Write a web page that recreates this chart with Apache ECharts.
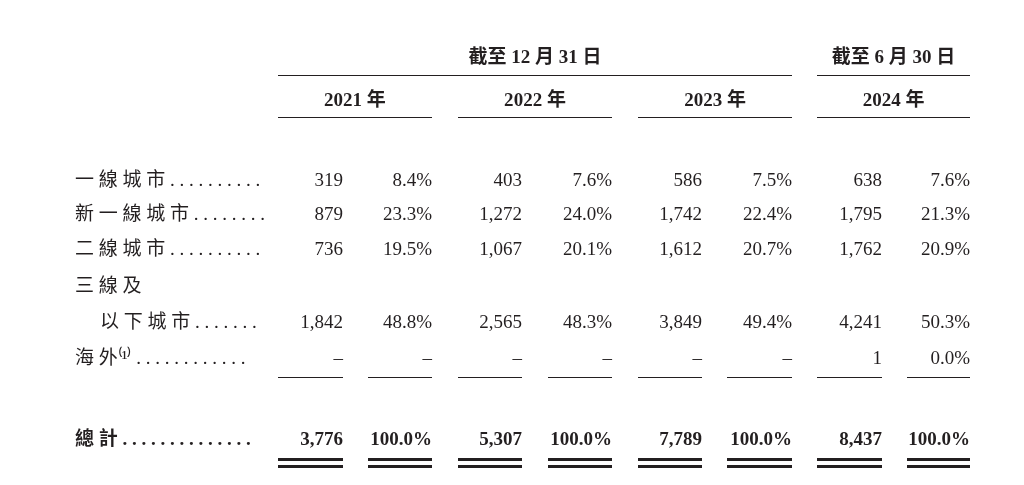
<!DOCTYPE html>
<html lang="zh">
<head>
    <meta charset="UTF-8">
    <title>城市分布</title>
    <script src="https://cdn.jsdelivr.net/npm/echarts@6/dist/echarts.min.js"></script>
    <style>html,body{margin:0;background:#fff}#main{width:1024px;height:485px}</style>
</head>
<body>
<div id="main"></div>
<script type="text/javascript">
    var groupTitles = ['截至 12 月 31 日', '截至 6 月 30 日'];
    var years = ['2021 年', '2022 年', '2023 年', '2024 年'];
    var rowLabels = ['一線城市', '新一線城市', '二線城市', '三線及', '以下城市', '海外'];
    var rowDots = ['..........', '........', '..........', '', '.......', '............'];
    var counts = [
        ['319', '403', '586', '638'],
        ['879', '1,272', '1,742', '1,795'],
        ['736', '1,067', '1,612', '1,762'],
        null,
        ['1,842', '2,565', '3,849', '4,241'],
        ['–', '–', '–', '1']
    ];
    var pcts = [
        ['8.4%', '7.6%', '7.5%', '7.6%'],
        ['23.3%', '24.0%', '22.4%', '21.3%'],
        ['19.5%', '20.1%', '20.7%', '20.9%'],
        null,
        ['48.8%', '48.3%', '49.4%', '50.3%'],
        ['–', '–', '–', '0.0%']
    ];
    var totalLabel = '總計';
    var totalCounts = ['3,776', '5,307', '7,789', '8,437'];
    var totalPcts = ['100.0%', '100.0%', '100.0%', '100.0%'];

    var font = '"Liberation Serif", "Noto Sans CJK TC", serif';
    var colLeft = [278, 458, 638, 817];   // 每年列左边
    var countRight = [343, 522, 702, 882];
    var pctLeft = [368, 548, 727, 907];
    var pctRight = [432, 612, 792, 970];
    var rowY = [181, 215, 250, 287, 323, 359];

    var g = [];
    function text(x, y, s, align, bold) {
        g.push({type: 'text', x: x, y: y, style: {text: s, fill: '#231f20', font: (bold ? 'bold ' : '') + '19px ' + font, textAlign: align, textVerticalAlign: 'middle'}});
    }
    function line(x1, x2, y, w) {
        g.push({type: 'line', shape: {x1: x1, y1: y, x2: x2, y2: y}, style: {stroke: '#231f20', lineWidth: w}});
    }
    // 表头
    text((colLeft[0] + pctRight[2]) / 2, 58, groupTitles[0], 'center', true);
    text((colLeft[3] + pctRight[3]) / 2, 58, groupTitles[1], 'center', true);
    line(colLeft[0], pctRight[2], 75.5, 1);
    line(colLeft[3], pctRight[3], 75.5, 1);
    years.forEach(function (y, i) {
        text((colLeft[i] + pctRight[i]) / 2, 101, y, 'center', true);
        line(colLeft[i], pctRight[i], 117.5, 1);
    });
    // 数据行
    rowLabels.forEach(function (lab, r) {
        var x = r === 4 ? 100 : 75;
        var label = lab.split('').join(' ');
        if (r === 5) label = '海 外⁽¹⁾';
        text(x, rowY[r], label + ' ' + rowDots[r].split('').join(' '), 'left', false);
        if (!counts[r]) return;
        for (var i = 0; i < 4; i++) {
            text(countRight[i], rowY[r], counts[r][i], 'right', false);
            text(pctRight[i], rowY[r], pcts[r][i], 'right', false);
        }
    });
    for (var i = 0; i < 4; i++) {
        line(colLeft[i], countRight[i], 377.5, 1);
        line(pctLeft[i], pctRight[i], 377.5, 1);
    }
    // 总计
    text(75, 440, totalLabel.split('').join(' ') + ' ' + '..............'.split('').join(' '), 'left', true);
    for (var i = 0; i < 4; i++) {
        text(countRight[i], 440, totalCounts[i], 'right', true);
        text(pctRight[i], 440, totalPcts[i], 'right', true);
        [colLeft[i], pctLeft[i]].forEach(function (x1, k) {
            var x2 = k === 0 ? countRight[i] : pctRight[i];
            line(x1, x2, 459.5, 3);
            line(x1, x2, 466.5, 3);
        });
    }

    var chart = echarts.init(document.getElementById('main'));
    chart.setOption({graphic: g});
</script>
</body>
</html>
